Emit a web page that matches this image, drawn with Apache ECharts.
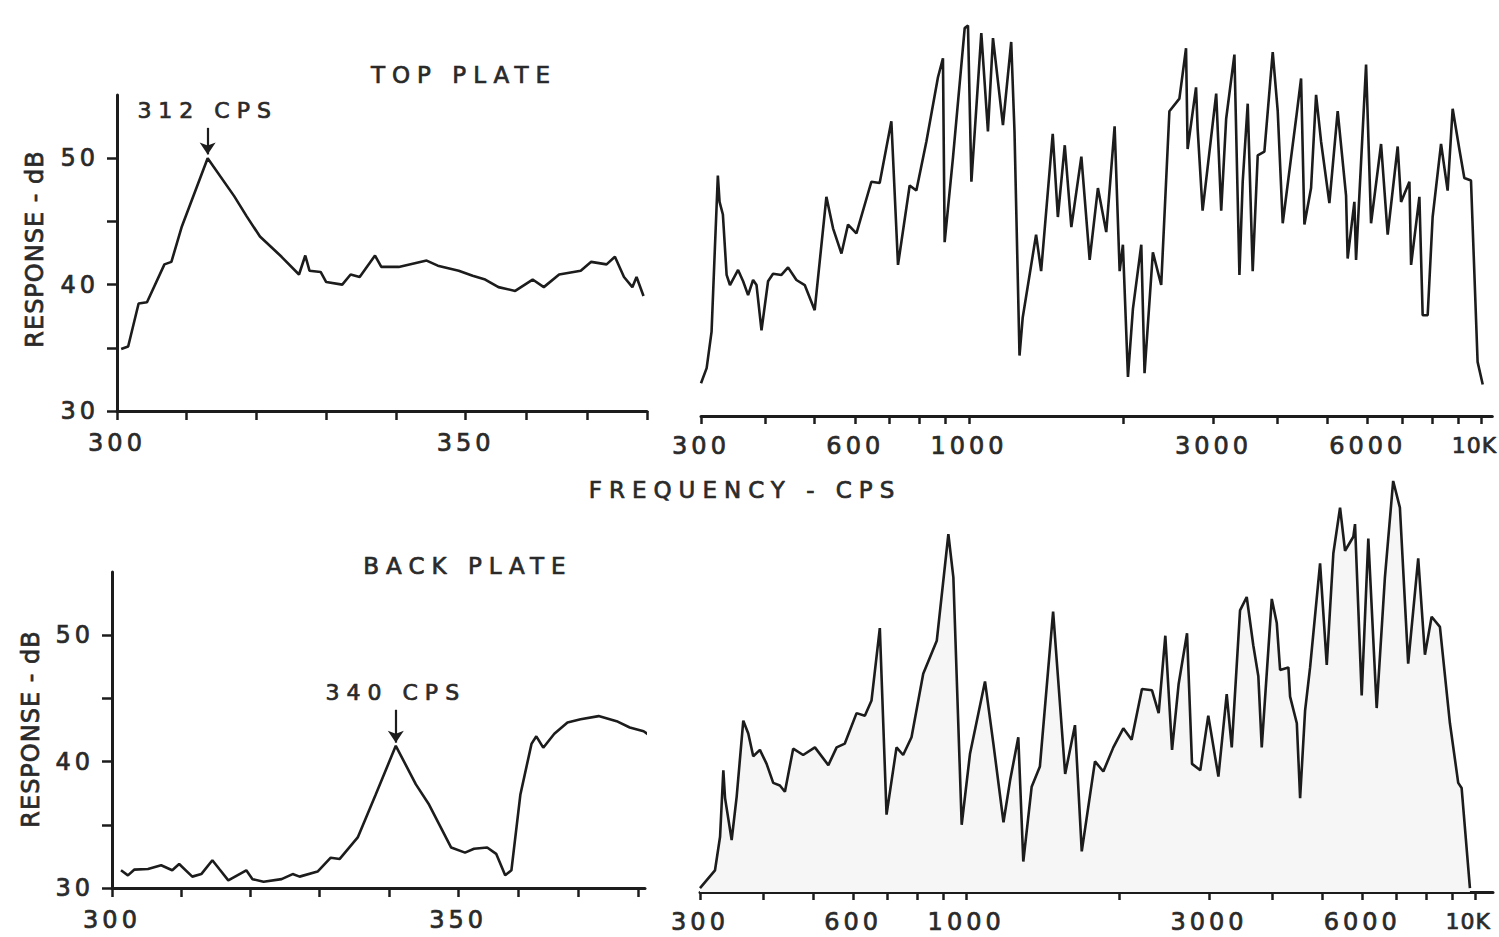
<!DOCTYPE html>
<html lang="en">
<head>
<meta charset="utf-8">
<title>Top plate / back plate response</title>
<script src="https://cdn.jsdelivr.net/npm/echarts@6/dist/echarts.min.js"></script>
<style>
    html, body { margin: 0; padding: 0; background: #fff; }
    #chart { width: 1499px; height: 937px; }
    /* zrender has no letter-spacing option, so the svg text gets it here.
       The last family in each list is only a marker for these rules. */
    #chart text[style*="Verdana"] { letter-spacing: 7px; }
    #chart text[style*="Tahoma"] { letter-spacing: 4px; }
    #chart text[style*="Arial"] { letter-spacing: 1px; }
</style>
</head>
<body>
<div id="chart"></div>
<script>
// ---- Data (frequency in cps, response in dB) ----

// top plate, linear sweep 300-376 cps
const topLeftFreq = [300.6, 301.6, 303.1, 304.3, 306.8, 307.8, 309.3, 313.0, 316.8, 318.6,
    320.5, 323.6, 326.1, 327.0, 327.6, 329.2, 330.0, 332.3, 333.5, 334.8,
    337.0, 337.9, 340.4, 344.4, 346.0, 349.0, 351.0, 352.8, 354.7, 357.1,
    359.6, 361.2, 363.4, 366.5, 368.0, 370.2, 371.4, 372.7, 373.9, 374.5,
    375.5];
const topLeftDb = [34.9, 35.1, 38.5, 38.6, 41.6, 41.8, 44.6, 50.0, 47.0, 45.4,
    43.8, 42.2, 40.8, 42.3, 41.1, 41.0, 40.2, 40.0, 40.8, 40.6,
    42.3, 41.4, 41.4, 41.9, 41.5, 41.1, 40.7, 40.4, 39.8, 39.5,
    40.4, 39.8, 40.8, 41.1, 41.8, 41.6, 42.2, 40.6, 39.8, 40.6,
    39.1];

// back plate, linear sweep (the trace runs past the end of the axis)
const backLeftFreq = [301.3, 302.3, 303.2, 305.2, 307.1, 308.7, 309.7, 311.6, 312.9, 314.5,
    315.5, 316.8, 318.1, 319.4, 320.3, 321.9, 324.5, 326.1, 327.1, 329.7,
    331.6, 332.9, 335.5, 338.1, 341.0, 343.9, 345.8, 349.0, 351.0, 352.3,
    354.2, 355.5, 356.8, 357.7, 359.0, 360.6, 361.3, 362.3, 363.9, 365.8,
    367.7, 370.3, 372.9, 374.8, 376.8, 379.4, 381.9, 383.5];
const backLeftDb = [31.4, 31.0, 31.45, 31.5, 31.8, 31.4, 31.9, 30.9, 31.1, 32.2,
    31.5, 30.6, 31.0, 31.4, 30.7, 30.5, 30.7, 31.1, 30.9, 31.3,
    32.4, 32.3, 34.0, 37.4, 41.25, 38.2, 36.6, 33.2, 32.8, 33.1,
    33.2, 32.7, 31.0, 31.4, 37.4, 41.4, 42.0, 41.1, 42.2, 43.1,
    43.35, 43.6, 43.2, 42.7, 42.4, 41.4, 39.9, 39.3];

// top plate, log sweep 300-10000 cps
const topRightFreq = [300, 307.7, 314.6, 319.3, 323.6, 326.1, 331, 336.6, 341.7, 354.4,
    362.5, 370.7, 379.1, 385, 393.7, 405.5, 414.7, 430.6, 443.6, 460.6,
    478.1, 500, 527, 543, 563.9, 580.8, 603.1, 645, 669.5, 705.6,
    727, 766.1, 789.5, 825.9, 870, 889.7, 896.5, 930.6, 981, 995.6,
    1011, 1057, 1089, 1114, 1165, 1209, 1227, 1255, 1273, 1352,
    1383, 1457, 1491, 1538, 1584, 1657, 1720, 1785, 1853, 1924,
    1968, 1997, 2043, 2089, 2169, 2201, 2285, 2372, 2461, 2574,
    2652, 2671, 2774, 2794, 2857, 3037, 3106, 3176, 3296, 3371,
    3421, 3499, 3578, 3660, 3771, 3915, 4004, 4095, 4251, 4348,
    4447, 4514, 4651, 4757, 4865, 5050, 5242, 5443, 5482, 5650,
    5693, 5955, 6090, 6370, 6562, 6864, 6969, 7235, 7290, 7567,
    7679, 7854, 8031, 8340, 8591, 8787, 9054, 9260, 9541, 9829,
    10058];
const topRightDb = [31.6, 32.8, 35.7, 42.3, 48.1, 46.0, 45.0, 40.2, 39.4, 40.6,
    39.7, 38.6, 39.8, 39.4, 35.8, 39.7, 40.3, 40.2, 40.8, 39.8,
    39.4, 37.4, 46.4, 43.9, 41.9, 44.2, 43.5, 47.6, 47.5, 52.4,
    41.0, 47.3, 46.9, 50.8, 55.9, 57.4, 42.8, 49.5, 59.8, 60.0,
    47.6, 59.4, 51.6, 59.0, 52.1, 58.7, 51.6, 33.8, 36.8, 43.4,
    40.5, 51.4, 44.8, 50.5, 44.0, 49.6, 41.4, 47.1, 43.6, 52.0,
    40.5, 42.6, 32.1, 37.5, 42.6, 32.4, 42.0, 39.4, 53.2, 54.2,
    58.2, 50.2, 55.1, 51.8, 45.3, 54.6, 45.3, 52.6, 57.7, 40.2,
    47.6, 53.8, 40.5, 49.7, 50.0, 57.9, 53.2, 44.3, 49.5, 52.6,
    55.8, 44.2, 47.1, 54.5, 50.8, 45.9, 53.2, 46.5, 41.5, 46.0,
    41.4, 56.9, 44.3, 50.6, 43.4, 50.4, 46.0, 47.6, 41.0, 46.4,
    37.0, 37.0, 44.8, 50.6, 46.9, 53.4, 50.2, 47.9, 47.7, 33.3,
    31.5];

// back plate, log sweep 300-10000 cps
const backRightFreq = [300, 321, 328.5, 333.4, 336, 346.2, 354.1, 364.9, 373.2, 381.7,
    393.4, 405.5, 417.8, 430.6, 440.5, 457.3, 478.4, 504.5, 536.1, 556.6,
    577.6, 609.1, 632.4, 651.8, 676.7, 697.6, 729.8, 752, 781, 823.5,
    875.5, 922.7, 943.8, 980, 1017.6, 1089, 1131, 1184, 1220, 1266,
    1295, 1345, 1396, 1482, 1565, 1636, 1687, 1791, 1860, 1946,
    2036, 2114, 2215, 2318, 2389, 2462, 2538, 2615, 2716, 2778,
    2884, 2990, 3130, 3250, 3325, 3452, 3558, 3665, 3750, 3808,
    3985, 4076, 4138, 4296, 4329, 4463, 4530, 4633, 4739, 4958,
    5110, 5265, 5427, 5551, 5763, 5807, 5985, 6167, 6405, 6648,
    6901, 7114, 7386, 7729, 7967, 8212, 8526, 8921, 9262, 9405,
    9766];
const backRightDb = [29.8, 31.2, 33.85, 39.1, 36.9, 33.6, 37.0, 43.0, 42.0, 40.2,
    40.7, 39.6, 38.1, 37.9, 37.4, 40.8, 40.3, 40.9, 39.5, 40.9,
    41.2, 43.6, 43.4, 44.6, 50.3, 35.6, 40.9, 40.3, 41.7, 46.7,
    49.3, 57.7, 54.3, 34.8, 40.4, 46.1, 41.2, 35.0, 38.3, 41.7,
    31.9, 37.8, 39.4, 51.6, 38.8, 42.65, 32.7, 39.8, 39.0, 40.9,
    42.4, 41.5, 45.5, 45.4, 43.6, 49.7, 40.7, 45.9, 49.9, 39.6,
    39.1, 43.4, 38.6, 45.1, 40.9, 51.7, 52.75, 48.95, 46.5, 40.9,
    52.6, 50.7, 47.0, 47.2, 44.9, 42.8, 36.9, 43.8, 47.2, 55.4,
    47.4, 56.2, 59.8, 56.4, 57.5, 58.5, 45.0, 57.35, 44.0, 54.3,
    61.9, 59.8, 47.5, 55.8, 48.2, 51.2, 50.4, 42.8, 38.1, 37.7,
    29.8];

// ticks and labels
const dbTicks = [30, 35, 40, 45, 50];
const dbLabels = [30, 40, 50];
const linTicks = [300, 310, 320, 330, 340, 350, 358.7, 367.4, 376];
const linLabels = [300, 350];
const logTicks = [300, 400, 500, 600, 700, 800, 900, 1000, 2000, 3000,
    4000, 5000, 6000, 7000, 8000, 9000, 10000];
const logLabels = [300, 600, 1000, 3000, 6000, 10000];

// resonance call-outs: [frequency, arrow start dB, arrow tip dB]
const topPeak = [313, 52.4, 50.3];
const backPeak = [341, 44.1, 41.5];

(function (window, document) {
    "use strict";

    const SEL = { host: "#chart" };
    const INK = "#1c1c1c";
    const TEXT = "#2a2a2a";
    const FONT_WIDE = "'DejaVu Sans', Verdana";
    const FONT_TICK = "'DejaVu Sans', Tahoma";
    const FONT_NAME = "'DejaVu Sans', Arial";
    const HEAVY = 0.7; // the stencil lettering is a bit heavier than DejaVu

    function pairs(xs, ys) {
        return xs.map((x, i) => [x, ys[i]]);
    }

    // ---- Axes ----
    function tickStyle() {
        return { color: INK, width: 2.5 };
    }

    function labelStyle(values, margin) {
        return {
            customValues: values, margin: margin,
            fontSize: 24, color: TEXT, fontFamily: FONT_TICK,
            textBorderColor: TEXT, textBorderWidth: HEAVY
        };
    }

    function linearX(grid, max) {
        return {
            type: "value", gridIndex: grid, min: 300, max: max,
            axisLine: { show: true, lineStyle: { color: INK, width: 3 } },
            axisTick: { show: true, customValues: linTicks, length: 9, lineStyle: tickStyle() },
            axisLabel: labelStyle(linLabels, 20),
            splitLine: { show: false }
        };
    }

    function logX(grid, max) {
        const lbl = labelStyle(logLabels, 18);
        // the last label sits on the page edge; keep it inside
        lbl.formatter = v => (v >= 10000 ? "{k|10K}" : String(v));
        lbl.rich = {
            k: {
                fontSize: 22, fontFamily: FONT_NAME, color: TEXT,
                textBorderColor: TEXT, textBorderWidth: HEAVY,
                padding: [0, 14, 0, 0]
            }
        };
        return {
            type: "log", logBase: 10, gridIndex: grid, min: 300, max: max,
            axisLine: { show: true, lineStyle: { color: INK, width: 3 } },
            axisTick: { show: true, customValues: logTicks, length: 8, lineStyle: tickStyle() },
            axisLabel: lbl,
            minorTick: { show: false },
            splitLine: { show: false }
        };
    }

    function dbY(grid) {
        return {
            type: "value", gridIndex: grid, min: 30, max: 55,
            axisLine: { show: true, lineStyle: { color: INK, width: 3 } },
            axisTick: { show: true, customValues: dbTicks, length: 10, lineStyle: tickStyle() },
            axisLabel: labelStyle(dbLabels, 18),
            splitLine: { show: false }
        };
    }

    function hiddenY(grid, min, max) {
        return { type: "value", gridIndex: grid, min: min, max: max, show: false };
    }

    // ---- Series ----
    function trace(axis, xs, ys, extra) {
        return Object.assign({
            type: "line", xAxisIndex: axis, yAxisIndex: axis,
            data: pairs(xs, ys),
            showSymbol: false, symbol: "none",
            lineStyle: { color: INK, width: 2.6 },
            silent: true
        }, extra || {});
    }

    function arrow(peak, text) {
        return {
            silent: true,
            symbol: ["none", "arrow"], symbolSize: 12,
            lineStyle: { color: INK, width: 2.2, type: "solid" },
            label: {
                show: true, position: "start", distance: 6, formatter: text,
                fontSize: 22, color: TEXT, fontFamily: FONT_WIDE,
                textBorderColor: TEXT, textBorderWidth: HEAVY
            },
            data: [[{ coord: [peak[0], peak[1]] }, { coord: [peak[0], peak[2]] }]]
        };
    }

    // ---- Free text ----
    function caption(text, x, y) {
        return {
            type: "text", x: x, y: y, silent: true,
            style: {
                text: text, fill: TEXT, font: "23px " + FONT_WIDE,
                stroke: TEXT, lineWidth: HEAVY,
                textAlign: "center", textVerticalAlign: "middle"
            }
        };
    }

    function yName(x, y) {
        return {
            type: "text", x: x, y: y, rotation: Math.PI / 2, silent: true,
            style: {
                text: "RESPONSE - dB", fill: TEXT, font: "24px " + FONT_NAME,
                stroke: TEXT, lineWidth: HEAVY,
                textAlign: "center", textVerticalAlign: "middle"
            }
        };
    }

    function buildOption() {
        return {
            animation: false,
            backgroundColor: "#ffffff",
            grid: [
                { left: 117, top: 95, width: 530, height: 316 },
                { left: 701, top: 13, width: 792, height: 403 },
                { left: 112, top: 572, width: 533, height: 316 },
                { left: 700, top: 467, width: 793, height: 425 }
            ],
            xAxis: [linearX(0, 376), logX(1, 10500), linearX(2, 377), logX(3, 10840)],
            yAxis: [dbY(0), hiddenY(1, 29, 61), dbY(2), hiddenY(3, 29.5, 63)],
            series: [
                trace(0, topLeftFreq, topLeftDb, { markLine: arrow(topPeak, "312 CPS") }),
                trace(1, topRightFreq, topRightDb),
                trace(2, backLeftFreq, backLeftDb, { clip: false, markLine: arrow(backPeak, "340 CPS") }),
                trace(3, backRightFreq, backRightDb, { areaStyle: { color: "#f6f6f6", opacity: 1 } })
            ],
            graphic: {
                elements: [
                    caption("TOP PLATE", 464, 75),
                    caption("FREQUENCY - CPS", 745, 490),
                    caption("BACK PLATE", 468, 566),
                    yName(35, 249),
                    yName(31, 729)
                ]
            }
        };
    }

    function init() {
        const el = document.querySelector(SEL.host);
        if (!el || !window.echarts) {
            console.warn("[chart] host or echarts missing");
            return;
        }
        const chart = echarts.init(el, null, { renderer: "svg" });
        chart.setOption(buildOption());
    }

    init();
})(window, document);
</script>
</body>
</html>
